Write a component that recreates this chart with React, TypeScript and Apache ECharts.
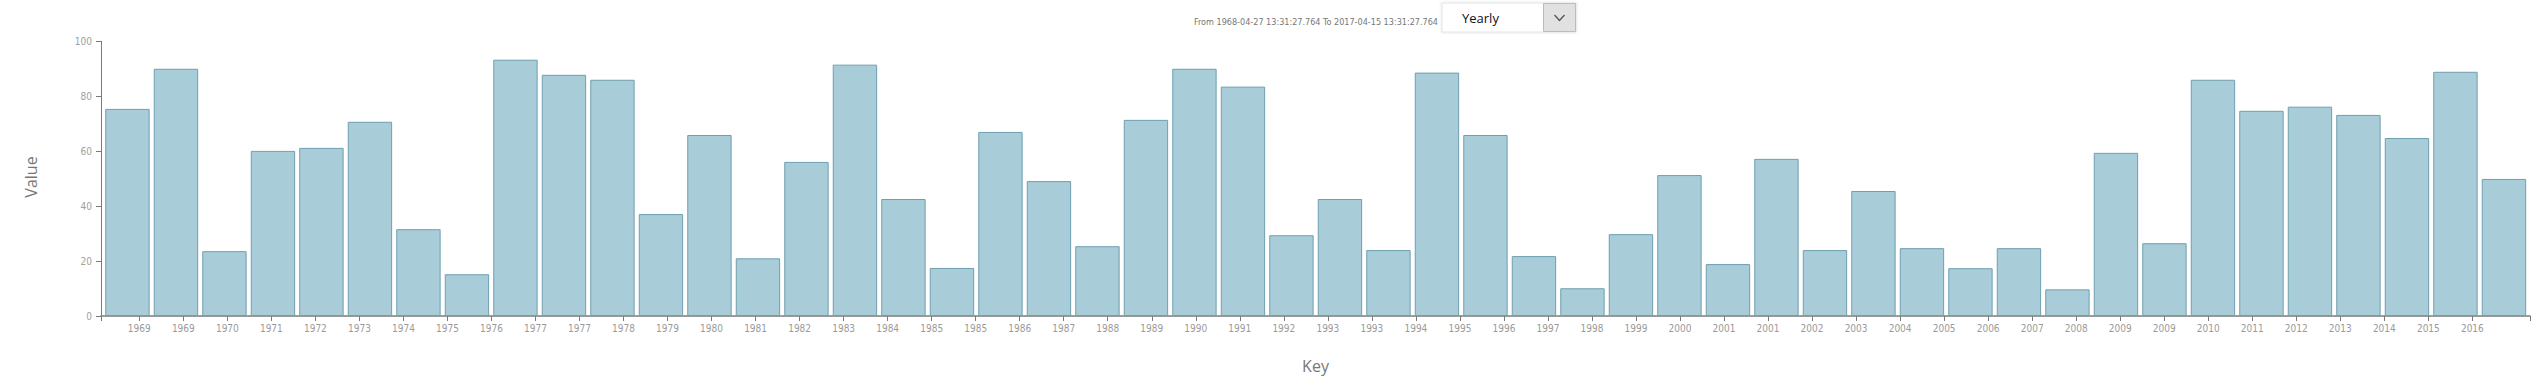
import React, { useEffect, useRef } from "react";
import * as echarts from "echarts";

// ---- data ----
const barKeys = [
  "1968", "1969", "1970", "1971", "1972", "1973", "1974", "1975", "1976", "1977",
  "1978", "1979", "1980", "1981", "1982", "1983", "1984", "1985", "1986", "1987",
  "1988", "1989", "1990", "1991", "1992", "1993", "1994", "1995", "1996", "1997",
  "1998", "1999", "2000", "2001", "2002", "2003", "2004", "2005", "2006", "2007",
  "2008", "2009", "2010", "2011", "2012", "2013", "2014", "2015", "2016", "2017",
];
const barValues = [
  75.4, 90.0, 23.6, 60.1, 61.2, 70.7, 31.6, 15.2, 93.3, 87.8,
  86.0, 37.1, 65.9, 21.0, 56.1, 91.5, 42.6, 17.5, 67.0, 49.1,
  25.4, 71.4, 90.0, 83.5, 29.4, 42.6, 24.0, 88.6, 65.9, 21.8,
  10.1, 29.8, 51.3, 18.9, 57.2, 24.0, 45.5, 24.7, 17.4, 24.7,
  9.7, 59.4, 26.5, 86.0, 74.7, 76.2, 73.2, 64.8, 88.9, 49.9,
];
const tickLabels = [
  "1969", "1969", "1970", "1971", "1972", "1973", "1974", "1975", "1976", "1977",
  "1977", "1978", "1979", "1980", "1981", "1982", "1983", "1984", "1985", "1985",
  "1986", "1987", "1988", "1989", "1990", "1991", "1992", "1993", "1993", "1994",
  "1995", "1996", "1997", "1998", "1999", "2000", "2001", "2001", "2002", "2003",
  "2004", "2005", "2006", "2007", "2008", "2009", "2009", "2010", "2011", "2012",
  "2013", "2014", "2015", "2016",
];
const yTicks = { min: 0, max: 100, interval: 20 };
const rangeText = "From 1968-04-27 13:31:27.764 To 2017-04-15 13:31:27.764";
const periodText = "Yearly";
const xTitle = "Key";
const yTitle = "Value";

// ---- layout ----
const W = 2545;
const H = 384;
const axisLeft = 101;
const axisRight = 2530;
const plotTop = 41.3;
const plotBottom = 316;
const tickStep = 44.02; // px between time ticks
const tickFirst = 38.3; // px from axis start to first tick

const NARROW = "'Liberation Sans Narrow', 'DejaVu Sans Condensed', 'Liberation Sans', sans-serif";
const UI = "'Open Sans', 'Noto Sans', sans-serif";

export default function App() {
  const ref = useRef<HTMLDivElement>(null);

  useEffect(() => {
    document.body.style.margin = "0";
    if (!ref.current) return;
    const chart = echarts.init(ref.current, undefined, { renderer: "svg" });

    const axisLen = axisRight - axisLeft;
    const tMax = axisLen / tickStep;
    const tOff = tickFirst / tickStep;
    const tickPos = tickLabels.map((_, i) => i + tOff);

    const barLeft = axisLeft + 2.2;
    const barRight = axisRight - 1.8;

    chart.setOption({
      animation: false,
      grid: [
        {
          left: barLeft,
          width: barRight - barLeft,
          top: plotTop,
          height: plotBottom - plotTop,
        },
        {
          left: axisLeft,
          width: axisLen,
          top: plotTop,
          height: plotBottom - plotTop,
        },
      ],
      xAxis: [
        {
          type: "category",
          gridIndex: 0,
          data: barKeys,
          show: false,
        },
        {
          type: "value",
          gridIndex: 1,
          min: 0,
          max: tMax,
          splitLine: { show: false },
          axisLine: { show: true, lineStyle: { color: "#7a7a7a", width: 1.5 } },
          axisTick: {
            show: true,
            length: 5,
            customValues: [0, ...tickPos, tMax],
            lineStyle: { color: "#7a7a7a", width: 1 },
          },
          axisLabel: {
            show: true,
            customValues: tickPos,
            margin: 7,
            fontSize: 10,
            fontFamily: NARROW,
            color: "#9a9a9a",
            formatter: (v: number) => {
              const idx = Math.round(v - tOff);
              return tickLabels[idx] ?? "";
            },
          },
        },
      ],
      yAxis: [
        {
          type: "value",
          gridIndex: 0,
          min: yTicks.min,
          max: yTicks.max,
          interval: yTicks.interval,
          show: false,
        },
        {
          type: "value",
          gridIndex: 1,
          min: yTicks.min,
          max: yTicks.max,
          interval: yTicks.interval,
          splitLine: { show: false },
          axisLine: { show: true, lineStyle: { color: "#7a7a7a", width: 1 } },
          axisTick: { show: true, length: 5, lineStyle: { color: "#7a7a7a" } },
          axisLabel: {
            margin: 9,
            fontSize: 10,
            fontFamily: NARROW,
            color: "#a0a0a0",
          },
        },
      ],
      series: [
        {
          type: "bar",
          xAxisIndex: 0,
          yAxisIndex: 0,
          data: barValues,
          barCategoryGap: "8.5%",
          itemStyle: {
            color: "#a8ccd8",
            borderColor: "#6e9fb1",
            borderWidth: 1,
          },
        },
      ],
      graphic: [
        {
          type: "text",
          x: 31,
          y: 177,
          rotation: Math.PI / 2,
          style: {
            text: yTitle,
            fontSize: 16,
            fontFamily: UI,
            fill: "#777777",
            align: "center",
            verticalAlign: "middle",
          },
        },
        {
          type: "text",
          x: (axisLeft + axisRight) / 2,
          y: 366,
          style: {
            text: xTitle,
            fontSize: 16,
            fontFamily: UI,
            fill: "#777777",
            align: "center",
            verticalAlign: "middle",
          },
        },
        {
          type: "text",
          x: 1438,
          y: 22,
          style: {
            text: rangeText,
            fontSize: 9,
            fontFamily: NARROW,
            fill: "#777777",
            align: "right",
            verticalAlign: "middle",
          },
        },
        {
          type: "rect",
          shape: { x: 1442, y: 3, width: 134, height: 29 },
          style: {
            fill: "#ffffff",
            stroke: "#e4e4e4",
            lineWidth: 1,
            shadowBlur: 3,
            shadowColor: "rgba(0,0,0,0.12)",
          },
        },
        {
          type: "rect",
          shape: { x: 1543.5, y: 3.5, width: 32, height: 28 },
          style: { fill: "#e1e1e1", stroke: "#bcbcbc", lineWidth: 1 },
        },
        {
          type: "text",
          x: 1462,
          y: 18,
          style: {
            text: periodText,
            fontSize: 13,
            fontFamily: UI,
            fill: "#111111",
            align: "left",
            verticalAlign: "middle",
          },
        },
        {
          type: "polyline",
          shape: { points: [[1554.5, 15], [1559.5, 20.5], [1564.5, 15]] },
          style: { stroke: "#555555", lineWidth: 1.3, fill: null },
        },
      ],
    });

    return () => chart.dispose();
  }, []);

  return <div ref={ref} style={{ width: W, height: H }} />;
}
